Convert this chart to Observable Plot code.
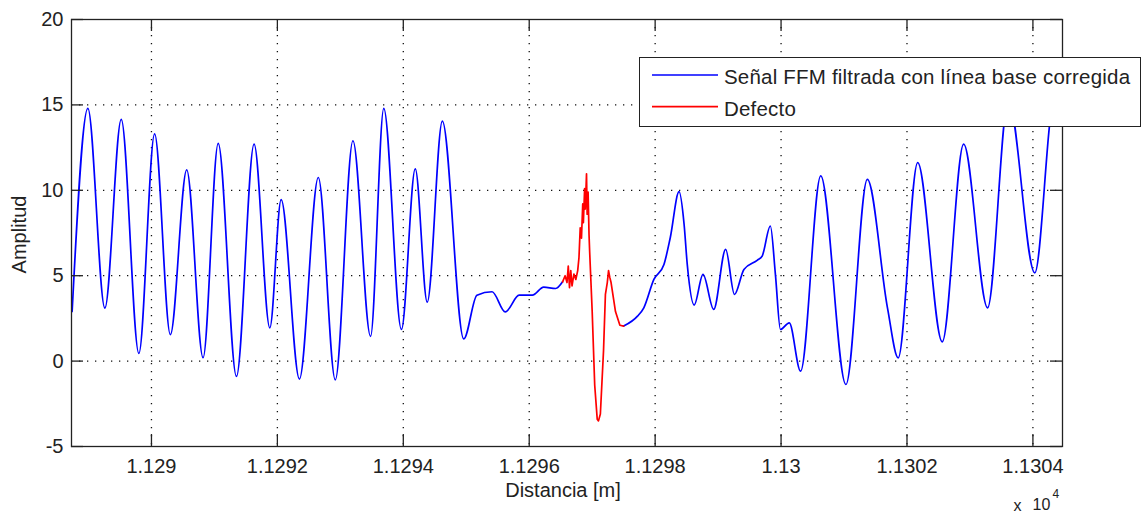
<!DOCTYPE html>
<html>
<head>
<meta charset="utf-8">
<script src="https://cdn.jsdelivr.net/npm/d3@7"></script>
<script src="https://cdn.jsdelivr.net/npm/@observablehq/plot@0.6"></script>
<style>
  body { margin: 0; background: #fff; }
  #wrap { position: relative; width: 1141px; height: 514px; font-family: "Liberation Sans", Arial, sans-serif; }
  #legend { position: absolute; left: 639px; top: 57px; width: 502px; height: 70px; box-sizing: border-box;
            border: 1px solid #222; background: #fff; }
  #legend svg { display: block; }
  g[aria-label="axis-title"] text { letter-spacing: 0.5px; }
</style>
</head>
<body>
<div id="wrap"></div>
<script>
// ---- data ----
const signalX = [
  11288.74, 11288.99, 11289.26, 11289.52, 11289.80, 11290.05, 11290.30, 11290.56, 11290.82, 11291.06,
  11291.35, 11291.63, 11291.88, 11292.06, 11292.35, 11292.65, 11292.92, 11293.20, 11293.48, 11293.69,
  11293.97, 11294.19, 11294.38, 11294.62, 11294.96, 11295.17, 11295.41, 11295.62, 11295.84, 11296.05,
  11296.23, 11296.42, 11296.53,
  11297.50, 11297.72, 11297.82, 11297.98, 11298.14, 11298.24, 11298.38, 11298.46, 11298.51, 11298.62,
  11298.76, 11298.93, 11299.12, 11299.26, 11299.41, 11299.62, 11299.70, 11299.83, 11299.91, 11299.99,
  11300.13, 11300.31, 11300.63, 11301.03, 11301.37, 11301.69, 11301.86, 11302.17, 11302.56, 11302.90,
  11303.28, 11303.61, 11304.03, 11304.26, 11304.33
];
const signalY = [
  2.9, 14.8, 3.1, 14.15, 0.45, 13.3, 1.55, 11.2, 0.2, 12.75,
  -0.9, 12.7, 1.95, 9.45, -1.05, 10.75, -1.1, 12.9, 1.45, 14.8,
  1.85, 11.25, 3.45, 14.05, 1.3, 3.86, 4.06, 2.88, 3.86, 3.86,
  4.33, 4.25, 4.64,
  2.05, 2.63, 3.12, 4.78, 5.66, 7.22, 9.92, 8.0, 5.66, 3.28,
  5.08, 3.03, 6.54, 3.9, 5.37, 5.9, 6.15, 7.91, 5.08, 1.85,
  2.24, -0.59, 10.84, -1.37, 10.64, 3.12, 0.19, 11.62, 1.13, 12.7,
  3.12, 15.3, 5.17, 13.67, 16.2
];
const defectX = [
  11296.53, 11296.57, 11296.60, 11296.62, 11296.64, 11296.66, 11296.68, 11296.71, 11296.74, 11296.77,
  11296.79, 11296.81, 11296.83, 11296.85, 11296.86, 11296.88, 11296.89, 11296.91, 11296.92, 11296.935,
  11296.95, 11296.96, 11297.00, 11297.04, 11297.08, 11297.10, 11297.13, 11297.18, 11297.21, 11297.24,
  11297.26, 11297.28, 11297.30, 11297.37, 11297.44, 11297.50
];
const defectY = [
  4.64, 5.0, 4.6, 5.56, 4.3, 5.3, 4.4, 5.1, 4.78, 5.3,
  6.05, 7.8, 7.2, 9.2, 8.1, 10.1, 8.9, 10.97, 8.6, 9.9,
  7.4, 6.4, 2.9, -1.4, -3.4, -3.5, -3.1, 0.6, 3.9, 4.6,
  5.3, 4.9, 4.6, 2.9, 2.1, 2.05
];
const xTicks = [11290, 11292, 11294, 11296, 11298, 11300, 11302, 11304];
const xTickLabels = ["1.129", "1.1292", "1.1294", "1.1296", "1.1298", "1.13", "1.1302", "1.1304"];
const yTicks = [-5, 0, 5, 10, 15, 20];
const yGrid = [0, 5, 10, 15];
const legendLabels = ["Señal FFM filtrada con línea base corregida", "Defecto"];
const legendColors = ["#0000ff", "#ff0000"];
const xAxisTitle = "Distancia [m]";
const yAxisTitle = "Amplitud";
const xExponent = ["x", "10", "4"];

// ---- tables for Plot ----
const defectStart = defectX[0];
const blueRows = signalX.map((x, i) => ({x, y: signalY[i], seg: x <= defectStart ? "a" : "b"}));
const redRows = defectX.map((x, i) => ({x, y: defectY[i]}));

const ink = "#222";
const frameW = 1141 - 71 - 79;
const frameH = 514 - 19 - 68;
const tickLen = 12;

const chart = Plot.plot({
  width: 1141,
  height: 514,
  marginLeft: 71,
  marginRight: 79,
  marginTop: 19,
  marginBottom: 68,
  x: {domain: [11288.73, 11304.47], label: null},
  y: {domain: [-5, 20], label: null},
  style: {fontFamily: "'Liberation Sans', Arial, sans-serif", fontSize: "20px", color: ink, background: "#fff"},
  marks: [
    Plot.ruleX(xTicks, {stroke: "#111", strokeWidth: 1.3, strokeDasharray: "1.3,6.7"}),
    Plot.ruleY(yGrid, {stroke: "#111", strokeWidth: 1.3, strokeDasharray: "1.3,6.7"}),
    Plot.line(blueRows, {x: "x", y: "y", z: "seg", stroke: legendColors[0], strokeWidth: 1.7, curve: "monotone-x"}),
    Plot.line(redRows, {x: "x", y: "y", stroke: legendColors[1], strokeWidth: 1.7, curve: "linear"}),
    Plot.frame({stroke: ink, strokeWidth: 1.3}),
    Plot.ruleX(xTicks, {stroke: ink, strokeWidth: 1.3, insetTop: frameH - tickLen}),
    Plot.ruleX(xTicks, {stroke: ink, strokeWidth: 1.3, insetBottom: frameH - tickLen}),
    Plot.ruleY(yTicks, {stroke: ink, strokeWidth: 1.3, insetRight: frameW - tickLen}),
    Plot.ruleY(yTicks, {stroke: ink, strokeWidth: 1.3, insetLeft: frameW - tickLen}),
    Plot.axisX(xTicks, {anchor: "bottom", tickSize: 0, tickPadding: 12, fontSize: 20,
      tickFormat: d => xTickLabels[xTicks.indexOf(d)], label: null}),
    Plot.axisY(yTicks, {anchor: "left", tickSize: 0, tickPadding: 8, fontSize: 20,
      tickFormat: d => String(d), label: null}),
    Plot.text([xAxisTitle], {frameAnchor: "bottom", textAnchor: "middle", lineAnchor: "middle",
      dx: -4, dy: 44, fontSize: 20, fill: ink, ariaLabel: "axis-title"}),
    Plot.text([yAxisTitle], {frameAnchor: "left", textAnchor: "middle", lineAnchor: "middle",
      dx: -52, dy: 1.5, rotate: -90, fontSize: 20, fill: ink, ariaLabel: "axis-title"}),
    Plot.text([xExponent[0]], {frameAnchor: "bottom-right", textAnchor: "start", lineAnchor: "middle",
      dx: -49, dy: 59, fontSize: 16, fill: ink}),
    Plot.text([xExponent[1]], {frameAnchor: "bottom-right", textAnchor: "start", lineAnchor: "middle",
      dx: -30, dy: 58.5, fontSize: 16, fill: ink}),
    Plot.text([xExponent[2]], {frameAnchor: "bottom-right", textAnchor: "start", lineAnchor: "middle",
      dx: -10, dy: 48, fontSize: 12, fill: ink})
  ]
});

const wrap = document.getElementById("wrap");
wrap.appendChild(chart);

// ---- legend (overlaid like the original, partly outside the axes) ----
const legend = d3.select(wrap).append("div").attr("id", "legend");
const lsvg = legend.append("svg").attr("width", 500).attr("height", 68);
const rowY = [17, 48.7];
const baseY = [26.3, 58];
legendLabels.forEach((lab, i) => {
  lsvg.append("line").attr("x1", 12).attr("x2", 78).attr("y1", rowY[i]).attr("y2", rowY[i])
    .attr("stroke", legendColors[i]).attr("stroke-width", 1.7);
  lsvg.append("text").attr("x", 84).attr("y", baseY[i]).text(lab)
    .attr("fill", ink).style("font-family", "'Liberation Sans', Arial, sans-serif")
    .style("font-size", "20.5px").style("letter-spacing", "0.2px");
});
</script>
</body>
</html>
